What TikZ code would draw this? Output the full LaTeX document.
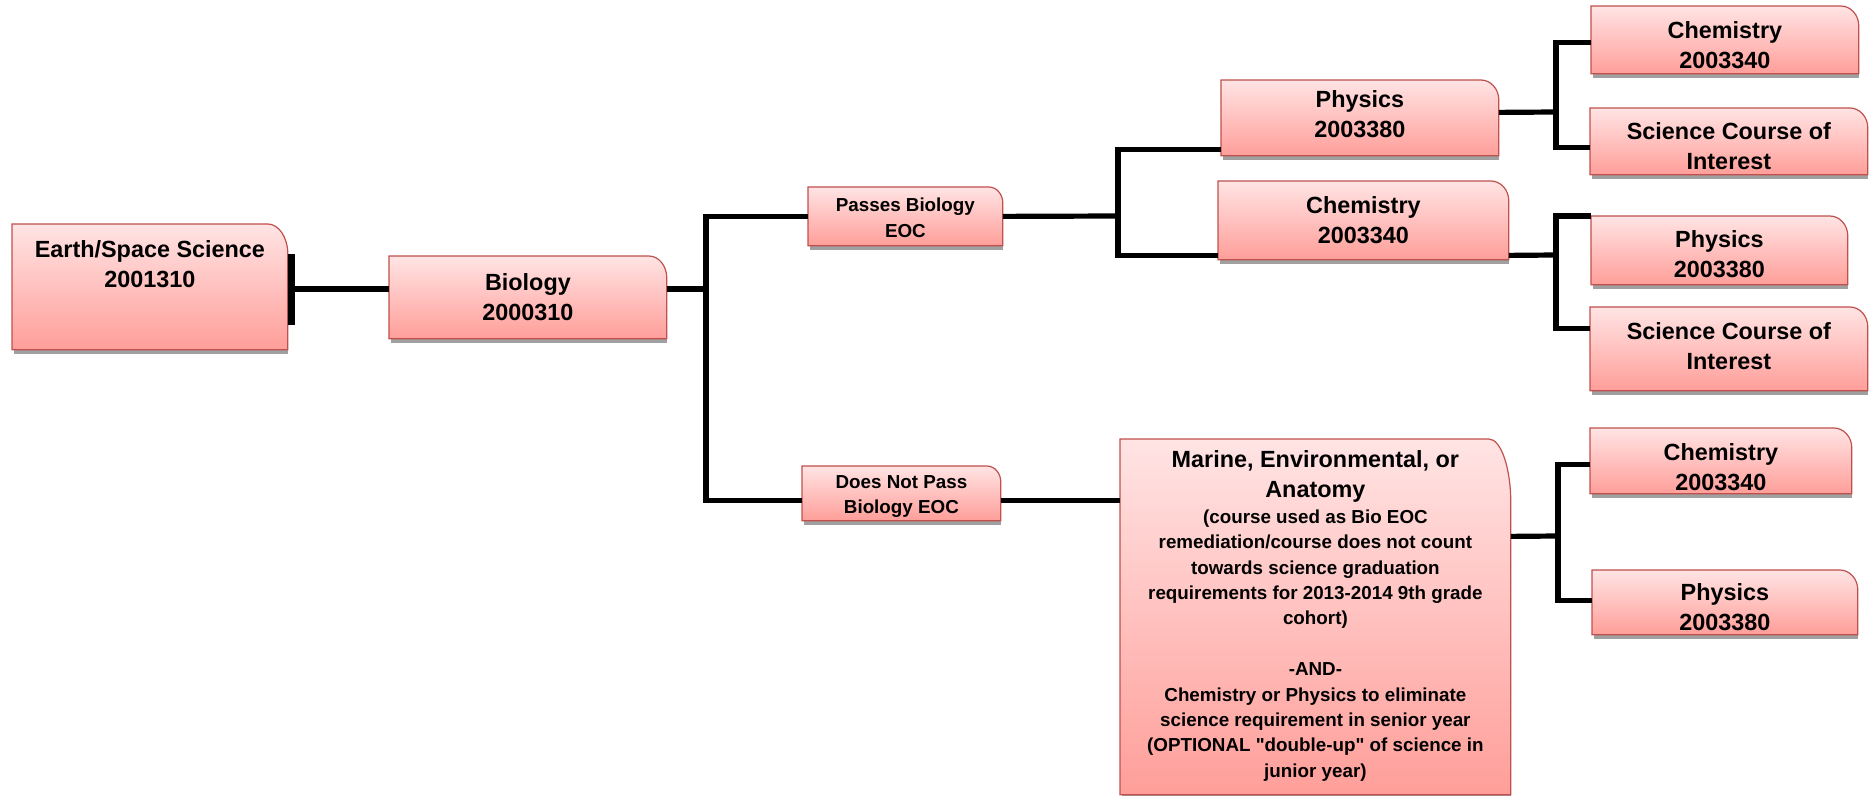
\documentclass[tikz,border=0pt]{standalone}
\usepackage{fontspec}
\setmainfont{Liberation Sans}
\usepackage{tikz}
\usetikzlibrary{backgrounds}
\definecolor{boxtop}{RGB}{255,228,228}
\definecolor{boxbot}{RGB}{255,158,153}
\definecolor{boxline}{RGB}{192,80,77}
\definecolor{shadowgray}{RGB}{160,160,160}
\newcommand{\bigf}{\fontsize{11.7pt}{15pt}\selectfont\bfseries}
\newcommand{\smallf}{\fontsize{9.4pt}{12.7pt}\selectfont\bfseries}
\newcommand{\cbox}[4]{\parbox[c][#2][t]{#1}{\centering\rule{0pt}{#3}#4\par}}

\begin{document}
\begin{tikzpicture}[x=0.5pt,y=-0.5pt]
 \tikzstyle{course}=[inner sep=0pt,anchor=north west]
 \tikzstyle{link}=[line width=2.6pt,black]
 \useasboundingbox (0,0) rectangle (1875,796);
   \node[course] (es)      at (12,224)   {\cbox{137.5pt}{62.5pt}{16.8pt}{\bigf Earth/Space Science\\2001310}};
   \node[course] (bio)     at (389,256)  {\cbox{138.5pt}{41pt}{17.3pt}{\bigf Biology\\2000310}};
   \node[course] (pass)    at (808,187)  {\cbox{97pt}{29pt}{12.2pt}{\smallf Passes Biology\\EOC}};
   \node[course] (fail)    at (802,466)  {\cbox{99pt}{27pt}{10.9pt}{\smallf Does Not Pass\\Biology EOC}};
   \node[course] (phys)    at (1221,80)  {\cbox{138.5pt}{37.5pt}{13.8pt}{\bigf Physics\\2003380}};
   \node[course] (chem)    at (1218,181) {\cbox{145pt}{39pt}{16pt}{\bigf Chemistry\\2003340}};
   \node[course] (chemup)  at (1591,6)   {\cbox{133.5pt}{33.5pt}{16.3pt}{\bigf Chemistry\\2003340}};
   \node[course] (sciup)   at (1590,108) {\cbox{138.5pt}{33pt}{15.5pt}{\bigf Science Course of\\Interest}};
   \node[course] (physlo)  at (1591,216) {\cbox{128pt}{34pt}{15.8pt}{\bigf Physics\\2003380}};
   \node[course] (scilo)   at (1590,307) {\cbox{138.5pt}{41.5pt}{16.3pt}{\bigf Science Course of\\Interest}};
   \node[course] (marine)  at (1120,439) {\cbox{195pt}{177.5pt}{14.3pt}{\bigf Marine, Environmental, or\\Anatomy\par
      \smallf (course used as Bio EOC\\remediation/course does not count\\towards science graduation\\requirements for 2013-2014 9th grade\\cohort)\\[12.7pt]
      -AND-\\Chemistry or Physics to eliminate\\science requirement in senior year\\(OPTIONAL \textquotedbl double-up\textquotedbl\ of science in\\junior year)}};
   \node[course] (chembot) at (1590,428) {\cbox{130.5pt}{32.5pt}{16.3pt}{\bigf Chemistry\\2003340}};
   \node[course] (physbot) at (1592,570) {\cbox{132.5pt}{32pt}{15.3pt}{\bigf Physics\\2003380}};
 % boxes behind the texts
 \begin{scope}[on background layer]
   \foreach \n/\rx/\ry in {es/10/15,bio/9/11,pass/7/8,fail/7/8,phys/9/10,chem/9/10,chemup/9/10,sciup/9/10,
      physlo/9/10,scilo/9/10,marine/11/32,chembot/9/10,physbot/9/10} {
     \fill[shadowgray] ([xshift=1pt]\n.south west) rectangle ([yshift=-2.2pt]\n.south east);
     \shadedraw[top color=boxtop,bottom color=boxbot,draw=boxline,line width=0.6pt]
       (\n.south west) -- (\n.north west) -- ([xshift=-\rx pt]\n.north east)
       arc[start angle=90,end angle=0,x radius=\rx pt,y radius=\ry pt] -- (\n.south east) -- cycle;
   }
 \end{scope}
 \coordinate (j1) at (706,289);
 \coordinate (j2) at (1118,216);
 \coordinate (j3) at (1556,112);
 \coordinate (j4) at (1556,255);
 \coordinate (j5) at (1558,536);
 \coordinate (dn) at ([yshift=-3.5pt]fail.east);
 \draw[line width=3.8pt] ([xshift=1.9pt,yshift=16.25pt]es.east) -- ([xshift=1.9pt,yshift=-19.25pt]es.east);
 \draw[link] (es.east |- j1) -- (bio.west |- j1);
 \draw[link] (bio.east |- j1) -- (j1);
 \draw[link] (pass.west) -| (j1) |- (fail.west |- dn);
 \draw[link] (dn) -- (marine.west |- dn);
 \draw[link] (pass.east) -- (j2);
 \draw[link] ([yshift=-15.75pt]phys.west) -| (j2) |- ([yshift=-17.5pt]chem.west);
 \draw[link] ([yshift=2.75pt]phys.east) -- (j3);
 \draw[link] ([yshift=-1.25pt]chemup.west) -| (j3) |- ([yshift=-3pt]sciup.west);
 \draw[link] ([yshift=-17.5pt]chem.east) -- (j4);
 \draw[link] (physlo.north west) -| (j4) |- ([yshift=10.25pt]scilo.west);
 \draw[link] ([yshift=40.25pt]marine.east) -- (j5);
 \draw[link] ([yshift=-1.75pt]chembot.west) -| (j5) |- ([yshift=1pt]physbot.west);
\end{tikzpicture}
\end{document}
